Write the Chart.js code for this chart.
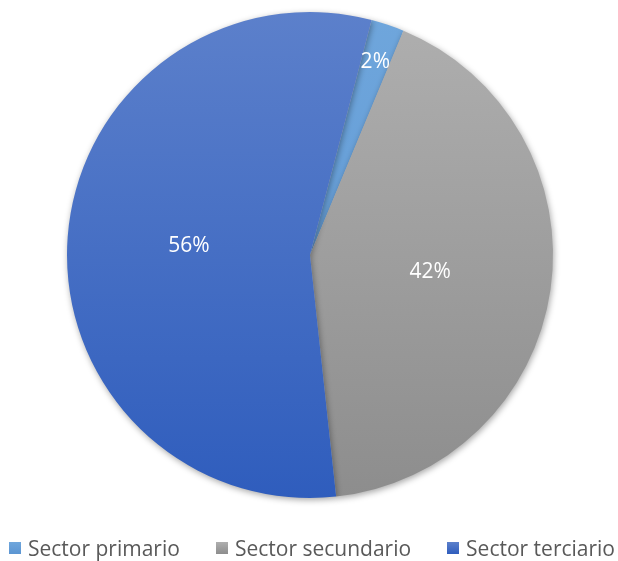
<!DOCTYPE html>
<html>
<head>
<meta charset="utf-8">
<script src="https://cdn.jsdelivr.net/npm/chart.js@4.4.0/dist/chart.umd.min.js"></script>
<style>
  html, body { margin: 0; padding: 0; background: #fff; }
  #wrap { width: 618px; height: 561px; position: relative; }
  #legend {
    position: absolute; left: 6px; right: 0; top: 535px; height: 26px;
    display: flex; justify-content: center; align-items: center;
    font-family: "Open Sans", "Liberation Sans", sans-serif; font-size: 21px; color: #595959;
  }
  .item { display: flex; align-items: center; margin: 0 18px; white-space: nowrap; }
  .box { width: 12px; height: 12px; margin-right: 7px; }
</style>
</head>
<body>
<div id="wrap"><canvas id="pie"></canvas><div id="legend"></div></div>
<script>
const categories = ['Sector primario', 'Sector secundario', 'Sector terciario'];
const shares = [2.2, 42.0, 55.8];
const pctLabels = ['2%', '42%', '56%'];

// top / bottom colours of each slice gradient
const topColors = ['#6fa6dc', '#afafaf', '#5c80cb'];
const bottomColors = ['#5b95d2', '#8d8d8d', '#2f5dbd'];

function sliceFill(context) {
    const chart = context.chart;
    const area = chart.chartArea;
    const i = context.dataIndex;
    if (!area) return topColors[i];
    const g = chart.ctx.createLinearGradient(0, area.top, 0, area.bottom);
    g.addColorStop(0, topColors[i]);
    g.addColorStop(1, bottomColors[i]);
    return g;
}

// percentage labels inside the slices
const sliceLabels = {
    id: 'sliceLabels',
    afterDatasetsDraw(chart) {
        const ctx = chart.ctx;
        const meta = chart.getDatasetMeta(0);
        ctx.save();
        ctx.fillStyle = '#ffffff';
        ctx.font = '21px "Open Sans", "Liberation Sans", sans-serif';
        ctx.textAlign = 'center';
        ctx.textBaseline = 'middle';
        meta.data.forEach((arc, i) => {
            const p = arc.getProps(['x', 'y', 'startAngle', 'endAngle', 'outerRadius'], true);
            const mid = (p.startAngle + p.endAngle) / 2;
            const small = (p.endAngle - p.startAngle) < 0.3;
            const r = p.outerRadius * (small ? 0.84 : 0.5);
            ctx.fillText(pctLabels[i], p.x + Math.cos(mid) * r, p.y + Math.sin(mid) * r);
        });
        ctx.restore();
    }
};

// soft shadow under the pie
const pieShadow = {
    id: 'pieShadow',
    beforeDatasetsDraw(chart) {
        const ctx = chart.ctx;
        ctx.save();
        ctx.shadowColor = 'rgba(0,0,0,0.35)';
        ctx.shadowBlur = 6;
        ctx.shadowOffsetX = 1;
        ctx.shadowOffsetY = 2;
    },
    afterDatasetsDraw(chart) {
        chart.ctx.restore();
    }
};

const chart = new Chart(document.getElementById('pie').getContext('2d'), {
    type: 'pie',
    data: {
        labels: categories,
        datasets: [{
            data: shares,
            backgroundColor: sliceFill,
            borderWidth: 0
        }]
    },
    options: {
        responsive: true,
        maintainAspectRatio: false,
        animation: false,
        rotation: 14.7,
        layout: { padding: { top: 12, bottom: 63, left: 2 } },
        plugins: {
            legend: { display: false },
            tooltip: { enabled: false }
        }
    },
    plugins: [pieShadow, sliceLabels]
});

// legend built from the chart's own labels
const legend = document.getElementById('legend');
chart.data.labels.forEach((label, i) => {
    const item = document.createElement('div');
    item.className = 'item';
    const box = document.createElement('span');
    box.className = 'box';
    box.style.background = 'linear-gradient(' + topColors[i] + ', ' + bottomColors[i] + ')';
    item.appendChild(box);
    item.appendChild(document.createTextNode(label));
    legend.appendChild(item);
});
</script>
</body>
</html>
